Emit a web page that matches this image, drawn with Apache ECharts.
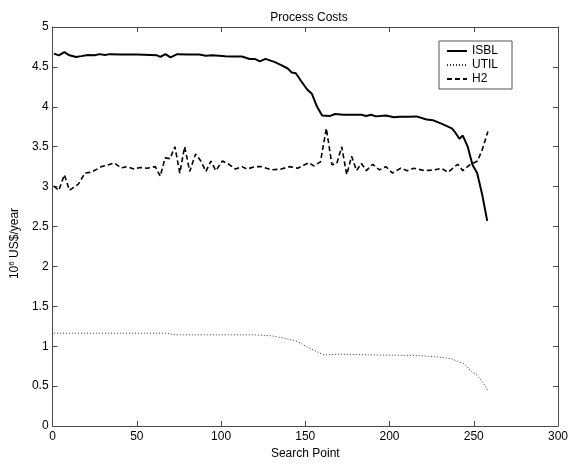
<!DOCTYPE html>
<html>
<head>
<meta charset="utf-8">
<script src="https://cdn.jsdelivr.net/npm/echarts@6/dist/echarts.min.js"></script>
<style>html,body{margin:0;padding:0;background:#fff}#c{width:571px;height:465px}</style>
</head>
<body>
<div id="c"></div>
<script>
var isblX = [0.8,3.7,7,10,14,17,21,25,28,31,34,40,50,62,64,67,70,74,80,87,91,95,102.5,106.5,112.4,117,120,123,126.4,132,136,139.6,142,144.4,147.3,151,154,157,160,164.8,167.7,172.6,183.3,186.2,189,192,197.8,202.7,205.6,211.4,216,222,226,230.8,237,238.6,241.5,243.5,246.4,249.3,252,255,258];
var isblY = [4.666,4.645,4.686,4.645,4.624,4.635,4.65,4.645,4.66,4.65,4.66,4.655,4.655,4.645,4.625,4.66,4.62,4.66,4.655,4.655,4.64,4.645,4.635,4.63,4.63,4.6,4.6,4.57,4.6,4.56,4.52,4.48,4.43,4.42,4.33,4.22,4.16,4.0,3.89,3.886,3.91,3.9,3.9,3.885,3.9,3.88,3.89,3.87,3.876,3.876,3.88,3.84,3.83,3.79,3.73,3.69,3.6,3.64,3.5,3.27,3.17,2.9,2.57];

var utilX = [0.8,20,54,67.6,73,100,120,130,137.6,145.4,151.2,157,161,170.6,190,215,229,236.6,240.5,244.4,248.3,252.2,256,258.4];
var utilY = [1.163,1.163,1.163,1.163,1.142,1.142,1.142,1.13,1.10,1.06,0.99,0.93,0.89,0.90,0.89,0.885,0.865,0.843,0.81,0.78,0.69,0.63,0.53,0.44];

var h2X = [0.8,3.7,7,10,15.3,19.2,23,29,32.8,36.7,40.6,44.5,48.3,52,56,61,63.9,66.8,69.7,72.6,75.5,78.4,81.4,84.9,88,91,94,96.9,100.8,104.6,108.5,112.4,115.3,120.2,124,130,135.8,140.6,145.5,149.3,152.2,155,159,162.5,165.8,168.7,171.6,174.6,177.5,180.4,183.3,186.2,190,194,197.8,201.7,206.6,210.5,214.3,221,227,230.8,234.7,240.5,243.5,247.4,252.2,255,258.4];
var h2Y = [3.007,2.953,3.15,2.953,3.03,3.17,3.18,3.25,3.27,3.296,3.234,3.25,3.22,3.24,3.23,3.25,3.13,3.36,3.35,3.50,3.17,3.50,3.19,3.41,3.32,3.19,3.32,3.2,3.32,3.28,3.22,3.25,3.22,3.25,3.25,3.21,3.22,3.25,3.23,3.27,3.30,3.26,3.31,3.73,3.275,3.29,3.50,3.15,3.38,3.20,3.29,3.20,3.28,3.21,3.25,3.17,3.23,3.20,3.23,3.20,3.21,3.23,3.18,3.28,3.20,3.27,3.32,3.46,3.69];

var xTicks = [0,50,100,150,200,250,300];
var yTicks = [0,0.5,1,1.5,2,2.5,3,3.5,4,4.5,5];

function pairs(xs, ys){ var o=[]; for(var i=0;i<xs.length;i++) o.push([xs[i],ys[i]]); return o; }

var FONT = 'Liberation Sans, Arial, sans-serif';
var AX = '#4a4a4a';
var chart = echarts.init(document.getElementById('c'), null, {renderer:'canvas'});
var baseX = {type:'value', min:0, max:300, interval:50, splitLine:{show:false},
  axisLine:{show:true, onZero:false, lineStyle:{color:AX, width:1}},
  axisTick:{show:true, inside:true, length:5, lineStyle:{color:AX}}};
var baseY = {type:'value', min:0, max:5, interval:0.5, splitLine:{show:false},
  axisLine:{show:true, onZero:false, lineStyle:{color:AX, width:1}},
  axisTick:{show:true, inside:true, length:5, lineStyle:{color:AX}}};

chart.setOption({
  animation:false,
  backgroundColor:'#fff',
  title:{text:'Process Costs', left:304, textAlign:'center', top:7,
    textStyle:{fontFamily:FONT, fontSize:12, fontWeight:'normal', color:'#000'}},
  grid:{left:47, right:9, top:27, bottom:34, containLabel:false},
  legend:{orient:'vertical', left:439, top:41, itemWidth:20, itemHeight:12, itemGap:2,
    padding:[4,14,4,7], borderColor:'#555', borderWidth:1, backgroundColor:'#fff',
    itemStyle:{opacity:0},
    textStyle:{fontFamily:FONT, fontSize:12, color:'#000'},
    data:['ISBL','UTIL','H2']},
  xAxis:[
    Object.assign({}, baseX, {position:'bottom', name:'Search Point', nameLocation:'middle', nameGap:22,
      nameTextStyle:{fontFamily:FONT, fontSize:12, color:'#000'},
      axisLabel:{show:true, margin:5, fontFamily:FONT, fontSize:12, color:'#000',
        formatter:function(v){ return xTicks.indexOf(v)>=0 ? String(v) : ''; }}}),
    Object.assign({}, baseX, {position:'top', axisLabel:{show:false}})
  ],
  yAxis:[
    Object.assign({}, baseY, {position:'left', name:'{s|10}{p|6}{s| US$/year}', nameLocation:'middle', nameGap:30,
      nameTextStyle:{fontFamily:FONT, fontSize:12, color:'#000', padding:[0,34,0,0],
        rich:{s:{fontFamily:FONT, fontSize:12, color:'#000'}, p:{fontFamily:FONT, fontSize:8, color:'#000', verticalAlign:'top', padding:[0,0,6,0]}}},
      axisLabel:{show:true, margin:4, fontFamily:FONT, fontSize:12, color:'#000',
        formatter:function(v){ return yTicks.indexOf(v)>=0 ? String(v) : ''; }}}),
    Object.assign({}, baseY, {position:'right', axisLabel:{show:false}})
  ],
  series:[
    {name:'ISBL', type:'line', data:pairs(isblX, isblY), showSymbol:false, symbol:'none',
      lineStyle:{color:'#000', width:2}, itemStyle:{color:'#000'}},
    {name:'UTIL', type:'line', data:pairs(utilX, utilY), showSymbol:false, symbol:'none',
      lineStyle:{color:'#333', width:1, type:[1,2]}, itemStyle:{color:'#333'}},
    {name:'H2', type:'line', data:pairs(h2X, h2Y), showSymbol:false, symbol:'none',
      lineStyle:{color:'#000', width:1.6, type:[5,3]}, itemStyle:{color:'#000'}}
  ]
});
</script>
</body>
</html>
